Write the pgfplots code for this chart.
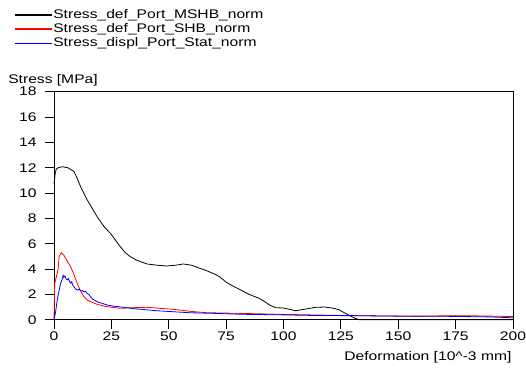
\documentclass[border=0pt]{standalone}
\usepackage{fontspec}
\setmainfont{Liberation Sans}[FakeStretch=1.25]
\usepackage{pgfplots}
\pgfplotsset{compat=1.18}
\begin{document}
\begin{tikzpicture}[font=\fontsize{12.5pt}{15pt}\selectfont]
\useasboundingbox (0,0) rectangle (526pt,374pt);
\begin{axis}[
  at={(54pt,54.3pt)}, anchor=south west,
  scale only axis, width=459pt, height=228pt,
  xmin=0, xmax=200, ymin=0, ymax=18,
  xtick={0,25,...,200}, ytick={0,2,...,18},
  tick align=outside, major tick length=9pt,
  xtick pos=bottom, ytick pos=left,
  axis line style={black, line width=0.8pt},
  every tick/.style={black, line width=0.8pt},
  yticklabel style={xshift=-5pt},
  /pgf/number format/assume math mode=true,
  clip=false,
  legend style={at={(rel axis cs:-0.0871,1.365)}, anchor=north west,
    draw=none, fill=none, inner sep=0pt, row sep=1.5pt,
    nodes={inner sep=1pt, anchor=west}},
  legend cell align=left,
  legend image code/.code={\draw[#1, line width=1.1pt] (0pt,0pt) -- (37pt,0pt);},
]
\addplot[color=black, line width=0.8pt] coordinates {
(0,10.7) (0.5,11.5) (1,11.9) (2,12.0) (3.6,12.08) (6,12.0) (8.7,11.7) (10,11.2) (11.6,10.5) (14.5,9.45) (18.8,8.13) (22,7.3) (24.6,6.82) (26.5,6.35) (28.9,5.76) (31,5.3) (33.3,4.97) (36,4.7) (40.5,4.4) (45,4.3) (49.1,4.24) (53,4.3) (56.3,4.4) (60,4.3) (63.5,4.06) (66.5,3.87) (70,3.6) (72.1,3.4) (75.1,2.95) (78,2.65) (80.8,2.4) (85,2.0) (89.4,1.69) (92,1.4) (94,1.15) (96.6,0.95) (100,0.92) (105.3,0.71) (110,0.85) (114,0.98) (118,1.0) (121.2,0.92) (124,0.8) (127,0.5) (131.3,0.1) (133,0) (150,0) (170,0) (190,0) (200,0)
};
\addlegendentry{Stress\textunderscore def\textunderscore Port\textunderscore MSHB\textunderscore norm}
\addplot[color=red, line width=0.8pt] coordinates {
(0,0) (0.3,2.87) (1.4,3.66) (1.8,4.0) (2.2,4.97) (3.2,5.29) (4.3,5.1) (5.5,4.7) (7.2,4.2) (8.6,3.6) (10.1,2.87) (11.5,2.3) (13,1.82) (14.5,1.55) (15.9,1.42) (19,1.2) (23.1,1.03) (28.9,0.9) (35,0.95) (40.5,0.98) (46,0.9) (52,0.82) (60,0.65) (66.5,0.55) (81,0.5) (100,0.42) (120,0.35) (140,0.3) (160,0.28) (175,0.32) (185,0.3) (200,0.25)
};
\addlegendentry{Stress\textunderscore def\textunderscore Port\textunderscore SHB\textunderscore norm}
\addplot[color=blue, line width=0.8pt] coordinates {
(0,0) (0.7,0.6) (1.4,1.55) (2.2,2.3) (2.9,2.87) (3.6,3.2) (4.0,3.5) (4.3,3.35) (4.8,3.45) (5.3,3.2) (5.8,3.15) (6.3,3.25) (6.8,3.0) (7.2,2.9) (7.7,3.0) (8.2,2.7) (8.7,2.6) (9.3,2.45) (10.1,2.34) (11,2.4) (11.8,2.25) (12.5,2.3) (13,2.21) (13.8,2.25) (14.5,2.05) (15.2,2.0) (15.9,1.82) (17,1.6) (18.8,1.42) (20,1.35) (23.1,1.16) (26,1.07) (30.3,0.98) (35,0.87) (44.7,0.71) (50,0.65) (59.1,0.55) (70,0.5) (81,0.43) (100,0.38) (115,0.33) (130,0.32) (150,0.28) (170,0.27) (190,0.22) (200,0.15)
};
\addlegendentry{Stress\textunderscore displ\textunderscore Port\textunderscore Stat\textunderscore norm}
\node[anchor=base west, inner sep=0pt] at (rel axis cs:-0.1,1.038) {Stress [MPa]};
\node[anchor=base east, inner sep=0pt] at (rel axis cs:0.997,-0.181) {Deformation [10\^{}-3 mm]};
\end{axis}
\end{tikzpicture}
\end{document}
